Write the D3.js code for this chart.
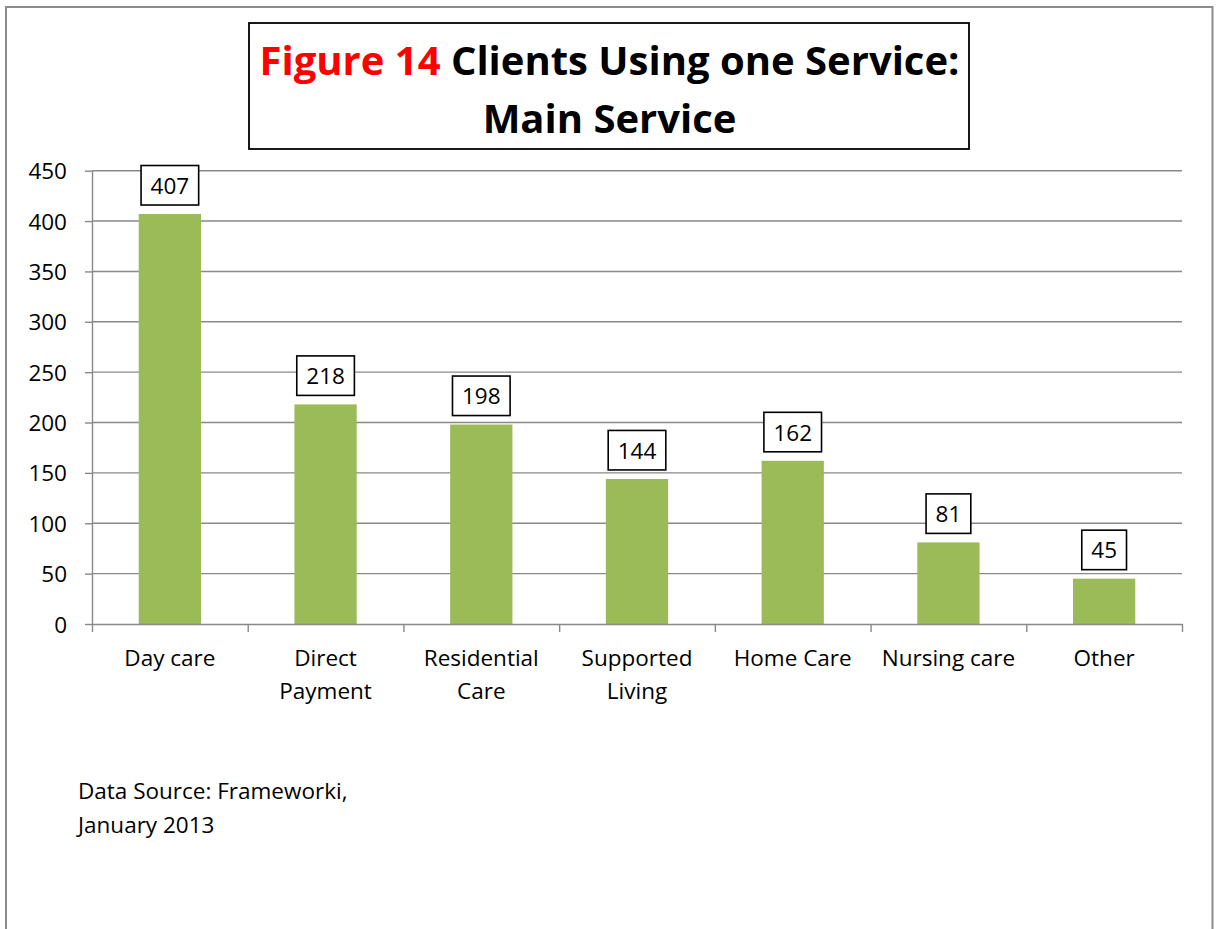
<!DOCTYPE html>
<html>
<head>
<meta charset="utf-8">
<script src="https://cdn.jsdelivr.net/npm/d3@7/dist/d3.min.js"></script>
<style>
  html, body { margin: 0; padding: 0; background: #fff; }
  svg { display: block; }
  text { font-family: "Open Sans", "Noto Sans", sans-serif; }
</style>
</head>
<body>
<svg id="chart" width="1219" height="929"></svg>
<script>
// Main service used by clients on a single service
const categories = ["Day care", "Direct Payment", "Residential Care", "Supported Living", "Home Care", "Nursing care", "Other"];
const categoryLines = [["Day care"], ["Direct", "Payment"], ["Residential", "Care"], ["Supported", "Living"], ["Home Care"], ["Nursing care"], ["Other"]];
const clients = [407, 218, 198, 144, 162, 81, 45];
const yTicks = [0, 50, 100, 150, 200, 250, 300, 350, 400, 450];
const titleLead = "Figure 14";
const titleRest = " Clients Using one Service:";
const titleLine2 = "Main Service";
const sourceLines = ["Data Source: Frameworki,", "January 2013"];

const svg = d3.select("#chart");
const fontSize = 22.5;
const axisColor = "#898989";
const barColor = "#9BBB59";

const plot = { left: 92, right: 1182, top: 170.7, bottom: 624 };

const x = d3.scaleBand()
  .domain(categories)
  .range([plot.left, plot.right])
  .paddingInner(0.6)
  .paddingOuter(0.3);

const y = d3.scaleLinear()
  .domain([0, 450])
  .range([plot.bottom, plot.top]);

// category boundaries for the x-axis tick marks
const edges = d3.scaleLinear()
  .domain([0, categories.length])
  .range([plot.left, plot.right]);

// outer frame
svg.append("rect")
  .attr("x", 6).attr("y", 7)
  .attr("width", 1206.5).attr("height", 1000)
  .attr("fill", "none")
  .attr("stroke", "#8c8c8c")
  .attr("stroke-width", 2);

// horizontal gridlines
svg.append("g")
  .selectAll("line")
  .data(yTicks.filter(d => d > 0))
  .join("line")
  .attr("x1", plot.left).attr("x2", plot.right)
  .attr("y1", d => y(d)).attr("y2", d => y(d))
  .attr("stroke", axisColor)
  .attr("stroke-width", 1.4);

// y axis
const yAxis = svg.append("g")
  .attr("transform", `translate(${plot.left},0)`)
  .call(d3.axisLeft(y).tickValues(yTicks).tickSize(7).tickSizeOuter(0).tickPadding(18));
yAxis.select(".domain").attr("stroke", axisColor).attr("stroke-width", 1.4);
yAxis.selectAll(".tick line").attr("stroke", axisColor).attr("stroke-width", 1.4);
yAxis.selectAll(".tick text")
  .attr("font-size", fontSize)
  .attr("font-family", "Open Sans")
  .attr("fill", "#000")
  .attr("dy", "0.355em");

// bars
svg.append("g")
  .selectAll("rect")
  .data(categories)
  .join("rect")
  .attr("x", d => x(d))
  .attr("width", x.bandwidth())
  .attr("y", (d, i) => y(clients[i]))
  .attr("height", (d, i) => y(0) - y(clients[i]))
  .attr("fill", barColor);

// x axis with ticks at category boundaries
const xAxis = svg.append("g")
  .attr("transform", `translate(0,${plot.bottom})`)
  .call(d3.axisBottom(edges).tickValues(d3.range(categories.length + 1)).tickSize(8).tickSizeOuter(0).tickFormat(""));
xAxis.select(".domain").attr("stroke", axisColor).attr("stroke-width", 1.4);
xAxis.selectAll(".tick line").attr("stroke", axisColor).attr("stroke-width", 1.4);

// category labels
const catLabels = svg.append("g")
  .selectAll("text")
  .data(categories)
  .join("text")
  .attr("text-anchor", "middle")
  .attr("font-size", fontSize)
  .attr("fill", "#000");
catLabels.each(function(d, i) {
  const cx = x(d) + x.bandwidth() / 2;
  d3.select(this).selectAll("tspan")
    .data(categoryLines[i])
    .join("tspan")
    .attr("x", cx)
    .attr("y", (l, j) => 665.5 + j * 33)
    .text(l => l);
});

// boxed value labels
const labelGroup = svg.append("g");
categories.forEach((c, i) => {
  const cx = x(c) + x.bandwidth() / 2;
  const boxBottom = y(clients[i]) - 9;
  const boxH = 39.5;
  const g = labelGroup.append("g");
  const rect = g.append("rect");
  const t = g.append("text")
    .attr("x", cx)
    .attr("y", boxBottom - boxH / 2 + 8.5)
    .attr("text-anchor", "middle")
    .attr("font-size", fontSize)
    .attr("fill", "#000")
    .text(clients[i]);
  const w = t.node().getComputedTextLength() + 19;
  rect.attr("x", cx - w / 2)
    .attr("y", boxBottom - boxH)
    .attr("width", w)
    .attr("height", boxH)
    .attr("fill", "#fff")
    .attr("stroke", "#000")
    .attr("stroke-width", 1.6);
});

// title box
svg.append("rect")
  .attr("x", 249).attr("y", 23)
  .attr("width", 720).attr("height", 126)
  .attr("fill", "#fff")
  .attr("stroke", "#000")
  .attr("stroke-width", 1.8);

const title = svg.append("text")
  .attr("x", 609.5).attr("y", 75)
  .attr("text-anchor", "middle")
  .attr("font-size", 40)
  .attr("font-weight", "bold")
  .attr("fill", "#000");
title.append("tspan").attr("fill", "#FF0000").text(titleLead);
title.append("tspan").text(titleRest);

svg.append("text")
  .attr("x", 609.5).attr("y", 133)
  .attr("text-anchor", "middle")
  .attr("font-size", 40)
  .attr("font-weight", "bold")
  .attr("fill", "#000")
  .text(titleLine2);

// data source note
svg.append("text")
  .attr("font-size", fontSize)
  .attr("fill", "#000")
  .selectAll("tspan")
  .data(sourceLines)
  .join("tspan")
  .attr("x", 78)
  .attr("y", (d, i) => 799 + i * 34)
  .text(d => d);
</script>
</body>
</html>
